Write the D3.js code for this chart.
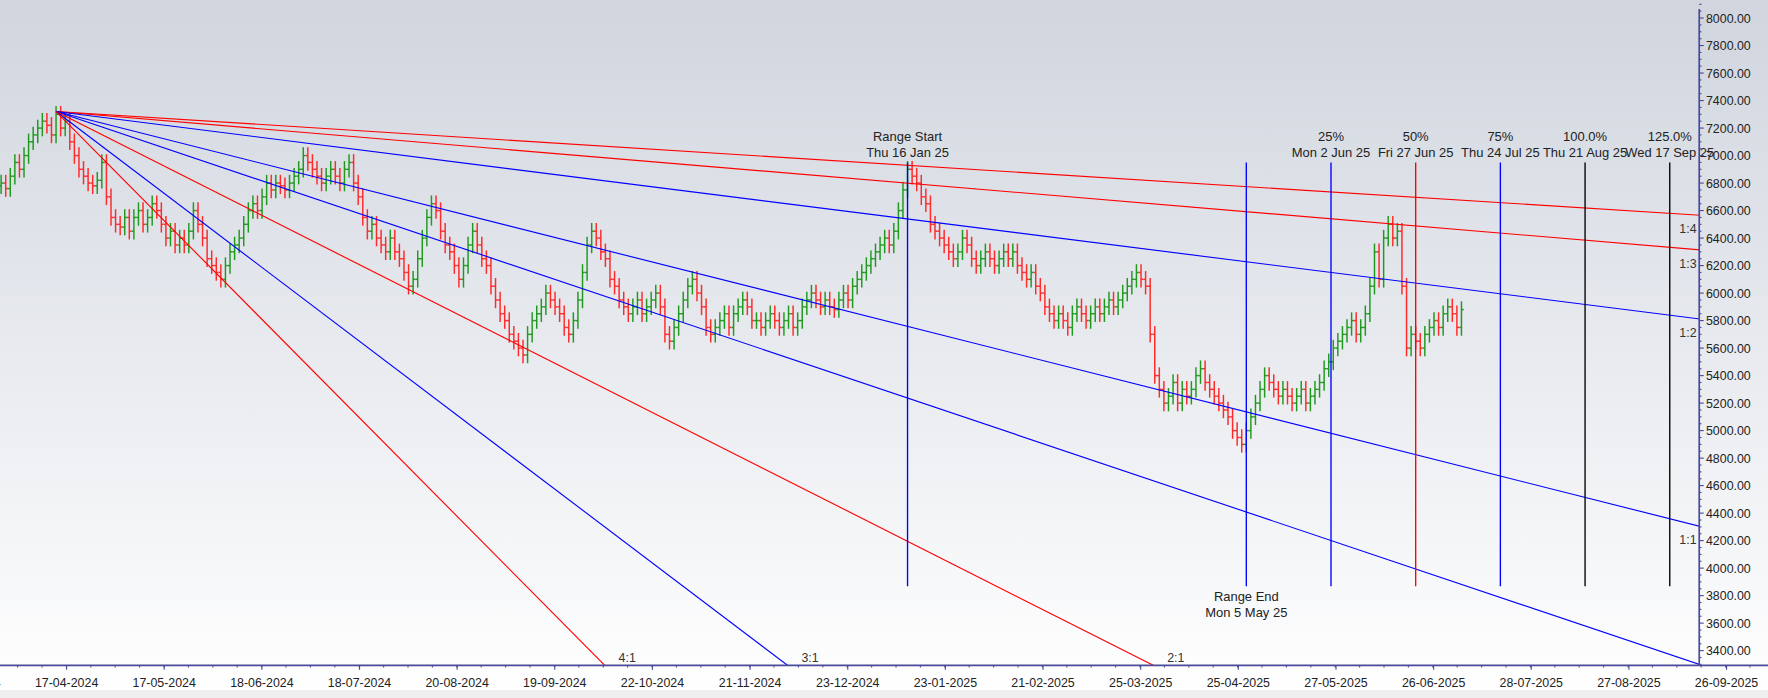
<!DOCTYPE html>
<html>
<head>
<meta charset="UTF-8">
<script src="https://cdn.jsdelivr.net/npm/d3@7"></script>
<style>
  body { margin:0; overflow:hidden; background:#fff; }
  text { font-family: "Liberation Sans", Arial, sans-serif; }
</style>
</head>
<body>
<svg id="chart" width="1768" height="698" viewBox="0 0 1568 619" preserveAspectRatio="none"></svg>
<script>
// daily closes, one per trading bar
var closes = [
 6800,6760,6850,6950,6900,7000,7100,7150,7200,7250,
 7220,7150,7300,7200,7250,7100,7000,6900,6850,6800,
 6780,6820,6950,6700,6550,6500,6480,6550,6450,6550,
 6600,6500,6550,6650,6600,6500,6400,6450,6350,6400,
 6350,6450,6600,6500,6400,6250,6200,6150,6100,6200,
 6300,6350,6400,6500,6600,6650,6600,6700,6800,6750,
 6800,6780,6750,6800,6850,6900,7000,6950,6900,6850,
 6800,6850,6900,6850,6800,6900,6950,6800,6700,6550,
 6450,6500,6400,6350,6300,6400,6300,6250,6150,6050,
 6100,6250,6400,6550,6650,6600,6450,6350,6300,6200,
 6100,6200,6350,6450,6350,6250,6200,6050,5950,5850,
 5800,5700,5650,5600,5550,5700,5800,5850,5900,6000,
 5950,5900,5850,5750,5700,5800,5950,6150,6350,6450,
 6400,6300,6250,6100,6050,5950,5900,5850,5900,5950,
 5850,5900,5950,6000,5900,5700,5650,5750,5850,5950,
 6050,6100,6000,5900,5750,5700,5750,5800,5850,5750,
 5850,5900,5950,5900,5800,5800,5750,5800,5850,5800,
 5750,5800,5850,5750,5800,5900,5950,6000,5950,5900,
 5950,5900,5880,5950,6000,5950,6050,6100,6150,6200,
 6250,6300,6350,6400,6350,6450,6600,6750,6900,6850,
 6800,6700,6650,6500,6450,6400,6350,6300,6250,6300,
 6400,6350,6250,6200,6250,6300,6250,6200,6250,6300,
 6250,6300,6200,6150,6100,6150,6050,6000,5900,5850,
 5800,5850,5800,5750,5850,5900,5850,5800,5850,5900,
 5850,5900,5950,5900,5950,6000,6050,6100,6150,6100,
 6050,5700,5400,5300,5200,5250,5350,5200,5300,5250,
 5300,5400,5450,5350,5300,5250,5200,5150,5100,5000,
 4950,4900,5000,5100,5200,5300,5400,5350,5300,5250,
 5300,5250,5200,5250,5300,5200,5250,5300,5350,5450,
 5500,5600,5650,5700,5750,5800,5700,5750,5850,6050,
 6300,6100,6400,6500,6400,6450,6050,5600,5700,5650,
 5600,5700,5750,5800,5750,5850,5900,5850,5750,5880
];
var dateLabels = ["17-04-2024","17-05-2024","18-06-2024","18-07-2024","20-08-2024","19-09-2024",
  "22-10-2024","21-11-2024","23-12-2024","23-01-2025","21-02-2025","25-03-2025","25-04-2025",
  "27-05-2025","26-06-2025","28-07-2025","27-08-2025","26-09-2025"];
var priceTicks = d3.range(3400, 8001, 200);

// gann fan: origin bar/price and ratios
var fanOrigin = {i: 12, p: 7320};
var fanRatios = [
  {name:"1:4", k:0.25, color:"#ff0000", side:"right"},
  {name:"1:3", k:1/3, color:"#ff0000", side:"right"},
  {name:"1:2", k:0.5, color:"#0000ff", side:"right"},
  {name:"1:1", k:1, color:"#0000ff", side:"right"},
  {name:"", k:4/3, color:"#0000ff", side:"none"},
  {name:"2:1", k:2, color:"#ff0000", side:"bottom"},
  {name:"3:1", k:3, color:"#0000ff", side:"bottom"},
  {name:"4:1", k:4, color:"#ff0000", side:"bottom"}
];
var unitPerBar = 8.4; // price units per bar for 1:1

var vLines = [
  {i:198, top:"Range Start", sub:"Thu 16 Jan 25", color:"#0000ff", pos:"top"},
  {i:272, top:"Range End", sub:"Mon 5 May 25", color:"#0000ff", pos:"bottom"},
  {i:290.5, top:"25%", sub:"Mon 2 Jun 25", color:"#0000ff", pos:"top"},
  {i:309, top:"50%", sub:"Fri 27 Jun 25", color:"#ff0000", pos:"top"},
  {i:327.5, top:"75%", sub:"Thu 24 Jul 25", color:"#0000ff", pos:"top"},
  {i:346, top:"100.0%", sub:"Thu 21 Aug 25", color:"#000000", pos:"top"},
  {i:364.5, top:"125.0%", sub:"Wed 17 Sep 25", color:"#000000", pos:"top"}
];

var W = 1568, H = 619, axisX = 1507, axisY = 590;
var svg = d3.select("#chart");

var grad = svg.append("defs").append("linearGradient").attr("id","bg")
  .attr("x1",0).attr("y1",0).attr("x2",0).attr("y2",1);
grad.append("stop").attr("offset","0%").attr("stop-color","#d0d5de");
grad.append("stop").attr("offset","100%").attr("stop-color","#ffffff");
svg.append("rect").attr("width",W).attr("height",H).attr("fill","url(#bg)");
svg.append("rect").attr("y",612).attr("width",W).attr("height",7).attr("fill","#efefef");

var x = d3.scaleLinear().domain([0, 1]).range([1, 5.06]); // 4.06 px per bar
var y = d3.scaleLinear().domain([3400, 8000]).range([577, 16]);

svg.append("defs").append("clipPath").attr("id","plot")
  .append("rect").attr("x",0).attr("y",0).attr("width",axisX).attr("height",axisY);
var plot = svg.append("g").attr("clip-path","url(#plot)");

// bars
var bars = closes.map(function(c, i) {
  var o = i ? closes[i-1] : c - 20;
  return {i:i, o:o, c:c, h:Math.max(o,c)+60, l:Math.min(o,c)-60};
});
var bg = plot.append("g");
bars.forEach(function(d) {
  var col = d.c >= d.o ? "#1f9a1f" : "#ff2a2a";
  var g = bg.append("g").attr("stroke", col).attr("stroke-width", 1.3);
  var cx = x(d.i);
  g.append("line").attr("x1",cx).attr("x2",cx).attr("y1",y(d.h)).attr("y2",y(d.l));
  g.append("line").attr("x1",cx-2).attr("x2",cx).attr("y1",y(d.o)).attr("y2",y(d.o));
  g.append("line").attr("x1",cx).attr("x2",cx+2).attr("y1",y(d.c)).attr("y2",y(d.c));
});

// fan lines
fanRatios.forEach(function(r) {
  var endI = 420;
  var endP = fanOrigin.p - r.k * unitPerBar * (endI - fanOrigin.i);
  plot.append("line").attr("stroke", r.color).attr("stroke-width",1)
    .attr("x1", x(fanOrigin.i)).attr("y1", y(fanOrigin.p))
    .attr("x2", x(endI)).attr("y2", y(endP));
  if (r.side == "right") {
    var iAx = x.invert(axisX);
    var pAx = fanOrigin.p - r.k * unitPerBar * (iAx - fanOrigin.i);
    svg.append("text").attr("x", 1497).attr("y", y(pAx) + 16).attr("text-anchor","middle")
      .attr("font-size", 11).attr("fill","#333").text(r.name);
  } else if (r.side == "bottom") {
    var pB = y.invert(axisY);
    var iB = fanOrigin.i + (fanOrigin.p - pB) / (r.k * unitPerBar);
    svg.append("text").attr("x", x(iB) + 20).attr("y", axisY - 3).attr("text-anchor","middle")
      .attr("font-size", 11).attr("fill","#333").text(r.name);
  }
});

// vertical time lines
vLines.forEach(function(v) {
  var vx = x(v.i);
  plot.append("line").attr("stroke", v.color).attr("stroke-width",1.2)
    .attr("x1",vx).attr("x2",vx).attr("y1",144).attr("y2",520);
  var ty = v.pos == "top" ? 125 : 533;
  svg.append("text").attr("x",vx).attr("y",ty).attr("text-anchor","middle")
    .attr("font-size",11.5).attr("fill","#222").text(v.top);
  svg.append("text").attr("x",vx).attr("y",ty+14).attr("text-anchor","middle")
    .attr("font-size",11.5).attr("fill","#222").text(v.sub);
});

// y axis
var axCol = "#4a4a9a";
svg.append("line").attr("x1",axisX).attr("x2",axisX).attr("y1",8).attr("y2",axisY)
  .attr("stroke",axCol).attr("stroke-width",1.5);
d3.range(3300, 8101, 50).forEach(function(p) {
  var major = p % 200 == 0;
  svg.append("line").attr("x1",axisX).attr("x2",axisX + (major ? 4 : 2))
    .attr("y1",y(p)).attr("y2",y(p)).attr("stroke",axCol);
});
priceTicks.forEach(function(p) {
  svg.append("text").attr("x",axisX+6).attr("y",y(p)+4).attr("font-size",11)
    .attr("fill","#222").text(p.toFixed(2));
});

// x axis
svg.append("line").attr("x1",0).attr("x2",W).attr("y1",axisY).attr("y2",axisY)
  .attr("stroke",axCol).attr("stroke-width",1.5);
d3.range(0, 385, 5.33).forEach(function(i) {
  svg.append("line").attr("x1",x(i+3.6)).attr("x2",x(i+3.6)).attr("y1",axisY).attr("y2",axisY+2)
    .attr("stroke",axCol);
});
svg.append("text").attr("x",x(-7.05)).attr("y",609).attr("text-anchor","middle")
  .attr("font-size",11).attr("fill","#222").text("17-03-2024");
dateLabels.forEach(function(t, k) {
  var ti = 14.3 + k * 21.33;
  svg.append("line").attr("x1",x(ti)).attr("x2",x(ti)).attr("y1",axisY).attr("y2",axisY+4)
    .attr("stroke",axCol);
  svg.append("text").attr("x",x(ti)).attr("y",609).attr("text-anchor","middle")
    .attr("font-size",11).attr("fill","#222").text(t);
});
</script>
</body>
</html>
